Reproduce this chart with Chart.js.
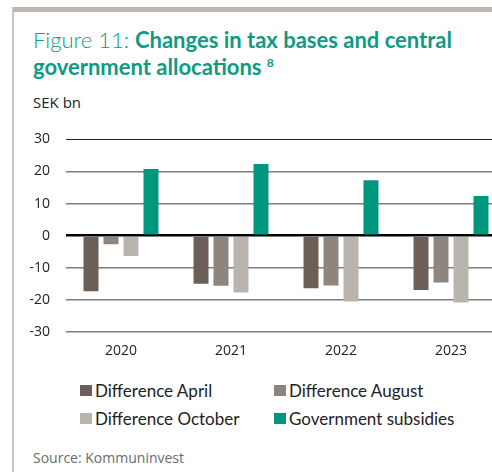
<!DOCTYPE html>
<html>
<head>
<meta charset="utf-8">
<script src="https://cdn.jsdelivr.net/npm/chart.js@4/dist/chart.umd.min.js"></script>
<style>
  html, body {
    margin: 0;
    padding: 0;
    width: 492px;
    height: 472px;
    overflow: hidden;
    background: #fff;
    font-family: Lato, "Open Sans", sans-serif;
  }
  #frame-top {
    position: absolute;
    left: 12px;
    top: 7px;
    width: 480px;
    height: 5px;
    background: #bdb6b1;
  }
  #frame-left {
    position: absolute;
    left: 12px;
    top: 7px;
    width: 2px;
    height: 465px;
    background: #c9c4bf;
  }
  #title {
    position: absolute;
    left: 33px;
    top: 28px;
    margin: 0;
    font-size: 22px;
    line-height: 23px;
    color: #0f9a84;
    font-weight: 700;
  }
  #title .lead { font-weight: 300; }
  #title sup { font-size: 12px; vertical-align: 8px; }
  #unit {
    position: absolute;
    left: 33px;
    top: 92px;
    font-family: "Open Sans", sans-serif;
    font-size: 15px;
    color: #222;
  }
  #chart-box {
    position: absolute;
    left: 0;
    top: 115px;
    width: 506px;
    height: 255px;
  }
  #legend {
    position: absolute;
    left: 80px;
    top: 380px;
    display: grid;
    grid-template-columns: 194px 200px;
    row-gap: 8px;
    font-size: 17px;
    color: #222;
  }
  .item { display: flex; align-items: center; height: 20px; white-space: nowrap; }
  .swatch { width: 12px; height: 11px; margin-right: 3px; }
  #source {
    position: absolute;
    left: 33px;
    top: 448px;
    font-family: "Open Sans", sans-serif;
    font-size: 14px;
    color: #6b6b6b;
  }
</style>
</head>
<body>
<div id="frame-top"></div>
<div id="frame-left"></div>
<h1 id="title"><span class="lead">Figure 11: </span>Changes in tax bases and central<br>government allocations <sup>8</sup></h1>
<div id="unit">SEK bn</div>
<div id="chart-box"><canvas id="tax-chart"></canvas></div>
<div id="legend"></div>
<div id="source">Source: Kommuninvest</div>

<script>
const years = ["2020", "2021", "2022", "2023"];
const diffApril = [-17.3, -15.0, -16.4, -16.9];
const diffAugust = [-2.7, -15.6, -15.5, -14.6];
const diffOctober = [-6.3, -17.7, -20.5, -20.8];
const govSubsidies = [20.8, 22.3, 17.3, 12.4];
const yTicks = [30, 20, 10, 0, -10, -20, -30];

const seriesNames = ["Difference April", "Difference August", "Difference October", "Government subsidies"];
const seriesColors = ["#6c5f57", "#8f857f", "#bab4ae", "#00977f"];
const seriesValues = [diffApril, diffAugust, diffOctober, govSubsidies];

const datasets = seriesNames.map((name, i) => ({
  label: name,
  data: seriesValues[i],
  backgroundColor: seriesColors[i],
  borderWidth: 0,
  categoryPercentage: 0.727,
  barPercentage: 0.75,
}));

const tickFont = { family: "Open Sans", size: 14 };

const chart = new Chart(document.getElementById("tax-chart"), {
  type: "bar",
  data: { labels: years, datasets },
  options: {
    responsive: true,
    maintainAspectRatio: false,
    animation: false,
    layout: { padding: { top: 1, right: 0, left: 0, bottom: 0 } },
    plugins: {
      legend: { display: false },
      tooltip: { enabled: false },
    },
    scales: {
      x: {
        grid: { display: false, drawTicks: false },
        border: { display: false },
        ticks: { color: "#222", padding: 11, font: tickFont },
        afterFit(scale) {
          scale.height = 38;
        },
      },
      y: {
        min: -30,
        max: 30,
        afterBuildTicks(scale) {
          scale.ticks = yTicks.map((v) => ({ value: v }));
        },
        border: { display: false },
        grid: {
          drawTicks: false,
          color(ctx) {
            if (ctx.tick.value === 0) return "#000";
            if (ctx.tick.value === 30) return "#222";
            return "#7d7d7d";
          },
          lineWidth(ctx) {
            if (ctx.tick.value === 0) return 2.5;
            if (ctx.tick.value === 30) return 1;
            return 1.5;
          },
        },
        ticks: { color: "#222", padding: 16, font: tickFont },
        afterFit(scale) {
          scale.width = 66;
        },
      },
    },
  },
});

// legend built from the chart's own datasets
const legendEl = document.getElementById("legend");
for (const ds of chart.data.datasets) {
  const item = document.createElement("div");
  item.className = "item";
  item.innerHTML = `<span class="swatch" style="background:${ds.backgroundColor}"></span>${ds.label}`;
  legendEl.appendChild(item);
}
</script>
</body>
</html>
